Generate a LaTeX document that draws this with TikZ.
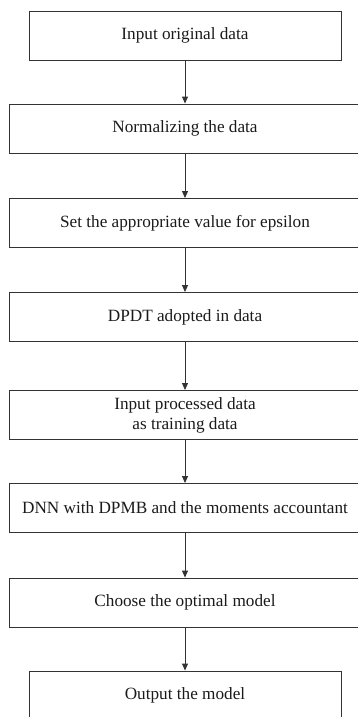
\documentclass[tikz,border=0pt]{standalone}
\usepackage{fontspec}
\setmainfont{Liberation Serif}
\usetikzlibrary{arrows.meta}
\definecolor{linec}{HTML}{333333}
\definecolor{textc}{HTML}{1a1a1a}
\tikzset{
  wide/.style={draw=linec, line width=0.9pt, minimum width=352pt, minimum height=49pt, inner sep=0pt, align=center, font=\fontsize{17.2}{20}\selectfont, text=textc},
  narrow/.style={wide, minimum width=312pt},
  conn/.style={draw=linec, line width=0.9pt, -{Triangle[length=7pt,width=6pt]}}
}
\begin{document}
\begin{tikzpicture}[x=1pt,y=-1pt]
\useasboundingbox (0,0) rectangle (358,717);
\node[narrow] (b1) at (185,35.5) {Input original data};
\node[wide] (b2) at (185,128.5) {Normalizing the data};
\node[wide] (b3) at (185,223) {Set the appropriate value for epsilon};
\node[wide] (b4) at (185,317) {DPDT adopted in data};
\node[wide] (b5) at (185,415) {Input processed data\\as training data};
\node[wide] (b6) at (185,508) {DNN with DPMB and the moments accountant};
\node[wide] (b7) at (185,602.5) {Choose the optimal model};
\node[narrow] (b8) at (185,695.5) {Output the model};
\draw[conn] (b1) -- (b2);
\draw[conn] (b2) -- (b3);
\draw[conn] (b3) -- (b4);
\draw[conn] (b4) -- (b5);
\draw[conn] (b5) -- (b6);
\draw[conn] (b6) -- (b7);
\draw[conn] (b7) -- (b8);
\end{tikzpicture}
\end{document}
